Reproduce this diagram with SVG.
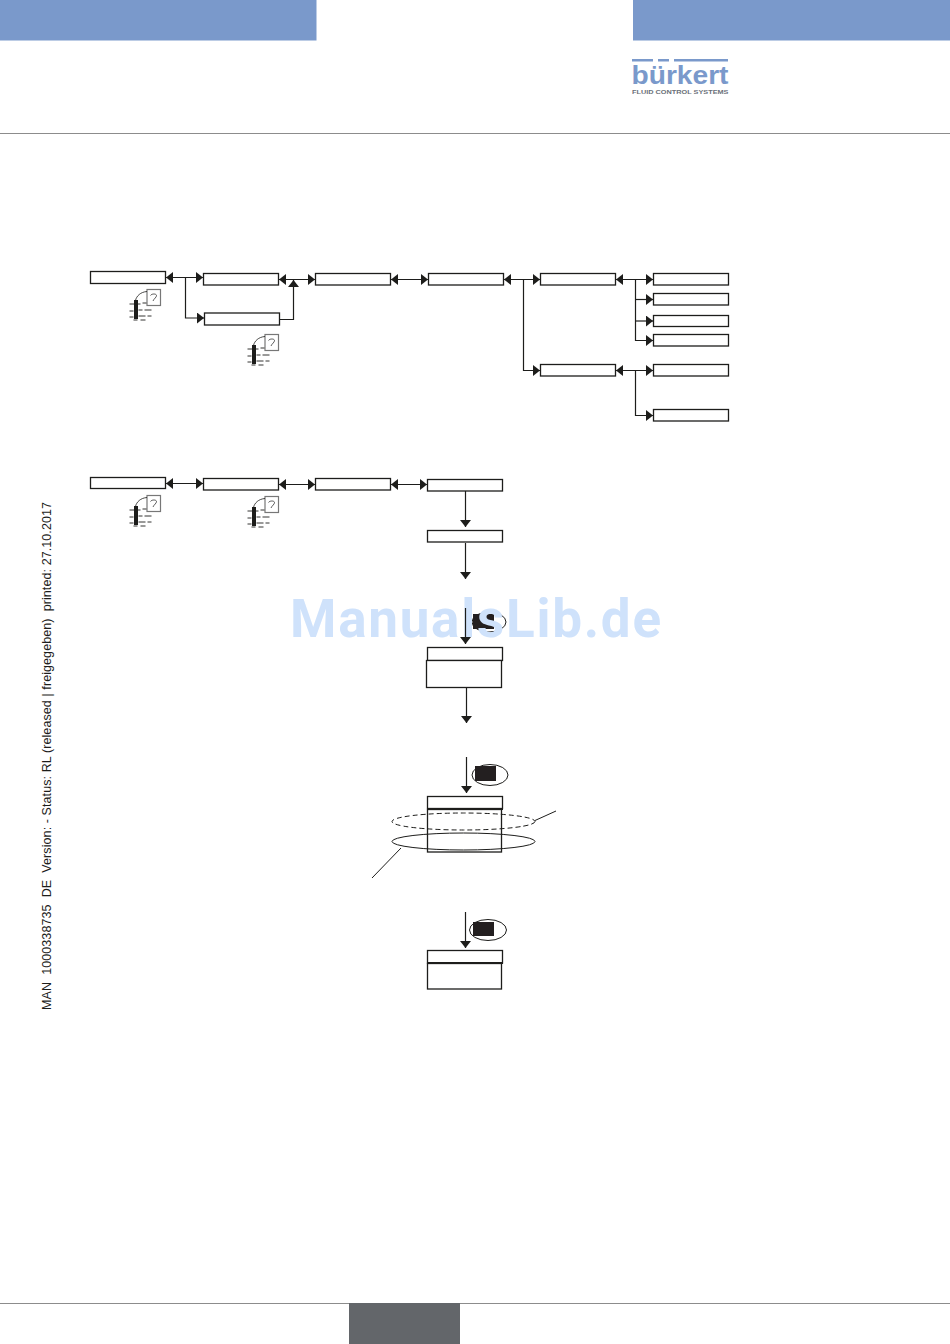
<svg xmlns="http://www.w3.org/2000/svg" xmlns:xlink="http://www.w3.org/1999/xlink" width="950" height="1344" viewBox="0 0 950 1344">
<style>
.b{fill:#fff;stroke:#1d1d1b;stroke-width:1.300}
.l{fill:none;stroke:#1d1d1b;stroke-width:1.200}
.k{fill:#231f20}
.e{fill:none;stroke:#1d1d1b;stroke-width:1}
.hd{fill:#7a99cb}
</style>
<defs>
<marker id="ae" markerUnits="userSpaceOnUse" markerWidth="8" markerHeight="12" refX="7" refY="5.500" orient="auto"><path d="M0 0L7 5.500L0 11Z" fill="#1d1d1b"/></marker>
<marker id="as" markerUnits="userSpaceOnUse" markerWidth="8" markerHeight="12" refX="0" refY="5.500" orient="auto"><path d="M7 0L0 5.500L7 11Z" fill="#1d1d1b"/></marker>
<g id="ic">
<rect x="17.500" y="0.500" width="13.500" height="16" fill="#fff" stroke="#777" stroke-width="1.200"/>
<path d="M21 6.500C22 4.500 27 4.500 27 6.500C27 8.500 24.500 9.500 23.500 12" fill="none" stroke="#333" stroke-width=".8"/>
<path d="M6 11.500C7 7 11 3 17.500 2.500" fill="none" stroke="#1d1d1b" stroke-width=".8"/>
<rect x="4.500" y="11" width="4" height="19" fill="#1d1d1b"/>
<path d="M0 15h11M13 14h4M0 22h4M9 21h4M15 21h7M0 28h4M9 27h7M18 27h4M4 31h4M11 31h5" stroke="#1d1d1b" stroke-width=".9" fill="none"/>
</g>
</defs>
<rect class="hd" x="0" y="0" width="316.500" height="40.500"/>
<rect class="hd" x="633" y="0" width="317" height="40.500"/>
<rect x="0" y="133" width="950" height="1" fill="#8c8c8c"/>
<rect x="0" y="1303" width="950" height="1" fill="#8c8c8c"/>
<rect x="349" y="1303" width="111" height="41" fill="#63666a"/>
<g id="logo" fill="#7a99cb">
<path d="M632 59h21v2.500h-21zM658 59h11v2.500h-11zM674 59h54v2.500h-54z"/>
<text x="631.500" y="84" font-family="'Liberation Sans',sans-serif" font-weight="700" font-size="25" textLength="97" lengthAdjust="spacingAndGlyphs">bürkert</text>
<text x="632" y="94" font-family="'Liberation Sans',sans-serif" font-weight="700" font-size="5.800" fill="#6a6f78" textLength="96.500" lengthAdjust="spacingAndGlyphs">FLUID CONTROL SYSTEMS</text>
</g>
<text transform="translate(50.500 1010) rotate(-90)" font-family="'Liberation Sans',Arial,sans-serif" font-size="12.500" fill="#1d1d1b" xml:space="preserve" textLength="508" lengthAdjust="spacing">MAN  1000338735  DE  Version: - Status: RL (released | freigegeben)  printed: 27.10.2017</text>
<g id="key1"><ellipse class="e" cx="489" cy="622" rx="17" ry="10"/><rect class="k" x="473" y="614" width="21" height="15"/></g>
<text id="watermark" x="290" y="637" font-family="Roboto,'Liberation Sans',sans-serif" font-weight="700" font-size="53" fill="#cfe2fb" textLength="371" lengthAdjust="spacing">ManualsLib.de</text>
<g id="connectors">
<path class="l" d="M166 277.500H203" marker-start="url(#as)" marker-end="url(#ae)"/>
<path class="l" d="M185.500 277.500V318H204" marker-end="url(#ae)"/>
<path class="l" d="M280 319.500H293.500V280" marker-end="url(#ae)"/>
<path class="l" d="M279 279.500H315" marker-start="url(#as)" marker-end="url(#ae)"/>
<path class="l" d="M391 279.500H428" marker-start="url(#as)" marker-end="url(#ae)"/>
<path class="l" d="M504 279.500H540" marker-start="url(#as)" marker-end="url(#ae)"/>
<path class="l" d="M523.500 279.500V370.500H540" marker-end="url(#ae)"/>
<path class="l" d="M616 279.500H653" marker-start="url(#as)" marker-end="url(#ae)"/>
<path class="l" d="M635.500 279.500V340.500H653" marker-end="url(#ae)"/>
<path class="l" d="M635.500 299.500H653" marker-end="url(#ae)"/>
<path class="l" d="M635.500 321H653" marker-end="url(#ae)"/>
<path class="l" d="M616 370.500H653" marker-start="url(#as)" marker-end="url(#ae)"/>
<path class="l" d="M635.500 370.500V415.500H653" marker-end="url(#ae)"/>
<path class="l" d="M166 483.500H203" marker-start="url(#as)" marker-end="url(#ae)"/>
<path class="l" d="M279 484.500H315" marker-start="url(#as)" marker-end="url(#ae)"/>
<path class="l" d="M391 484.500H427" marker-start="url(#as)" marker-end="url(#ae)"/>
<path class="l" d="M465.500 491V527" marker-end="url(#ae)"/>
<path class="l" d="M465.500 543V579" marker-end="url(#ae)"/>
<path class="l" d="M465.500 608V644" marker-end="url(#ae)"/>
<path class="l" d="M466.500 688V723" marker-end="url(#ae)"/>
<path class="l" d="M466.500 757V793" marker-end="url(#ae)"/>
<path class="l" d="M465.500 912V948" marker-end="url(#ae)"/>
<path class="e" d="M535 820.500L556 811"/>
<path class="e" d="M401 848L372 878"/>
</g>
<g id="n1"><rect class="b" x="90.500" y="271.500" width="75" height="12"/></g>
<g id="n2"><rect class="b" x="203.500" y="273.500" width="75" height="11.500"/></g>
<g id="n3"><rect class="b" x="204.500" y="313" width="75" height="12"/></g>
<g id="n4"><rect class="b" x="315.500" y="273.500" width="75" height="11.500"/></g>
<g id="n5"><rect class="b" x="428.500" y="273.500" width="75" height="11.500"/></g>
<g id="n6"><rect class="b" x="540.500" y="273.500" width="75" height="11.500"/></g>
<g id="n7"><rect class="b" x="653.500" y="273.500" width="75" height="11.500"/></g>
<g id="n8"><rect class="b" x="653.500" y="293.500" width="75" height="11.500"/></g>
<g id="n9"><rect class="b" x="653.500" y="315.500" width="75" height="11"/></g>
<g id="n10"><rect class="b" x="653.500" y="334.500" width="75" height="11.500"/></g>
<g id="n11"><rect class="b" x="540.500" y="364.500" width="75" height="11.500"/></g>
<g id="n12"><rect class="b" x="653.500" y="364.500" width="75" height="11.500"/></g>
<g id="n13"><rect class="b" x="653.500" y="409.500" width="75" height="11.500"/></g>
<g id="n14"><rect class="b" x="90.500" y="477.500" width="75" height="11"/></g>
<g id="n15"><rect class="b" x="203.500" y="478.500" width="75" height="11.500"/></g>
<g id="n16"><rect class="b" x="315.500" y="478.500" width="75" height="11.500"/></g>
<g id="n17"><rect class="b" x="427.500" y="479.500" width="75" height="11.500"/></g>
<g id="n18"><rect class="b" x="427.500" y="530.500" width="75" height="11.500"/></g>
<g id="icon1"><use xlink:href="#ic" href="#ic" x="129.500" y="289"/></g>
<g id="icon2"><use xlink:href="#ic" href="#ic" x="247.500" y="334"/></g>
<g id="icon3"><use xlink:href="#ic" href="#ic" x="129.500" y="495"/></g>
<g id="icon4"><use xlink:href="#ic" href="#ic" x="247.500" y="496"/></g>
<g id="n19"><rect class="b" x="427.500" y="647.500" width="75" height="13"/><rect class="b" x="426.500" y="660.500" width="75" height="27"/></g>
<g id="key2"><ellipse class="e" cx="490" cy="775" rx="18" ry="10.500"/><rect class="k" x="475" y="766" width="21" height="15"/></g>
<g id="n20"><rect class="b" x="427.500" y="796.500" width="75" height="12"/><rect class="b" x="427.500" y="809.500" width="74" height="42.500"/><path d="M427 809H503" stroke="#1d1d1b" stroke-width="1.800"/></g>
<g id="ell1"><ellipse class="e" cx="463.500" cy="821.500" rx="71.500" ry="8.500" stroke-dasharray="5 3"/></g>
<g id="ell2"><ellipse class="e" cx="463.500" cy="841.500" rx="71.500" ry="8.500"/></g>
<g id="key3"><ellipse class="e" cx="488" cy="930" rx="18.500" ry="10.500"/><rect class="k" x="473" y="922" width="21" height="14"/></g>
<g id="n21"><rect class="b" x="427.500" y="950.500" width="75" height="12.500"/><rect class="b" x="427.500" y="963.500" width="74" height="25.500"/><path d="M427 963H503" stroke="#1d1d1b" stroke-width="1.800"/></g>
</svg>
